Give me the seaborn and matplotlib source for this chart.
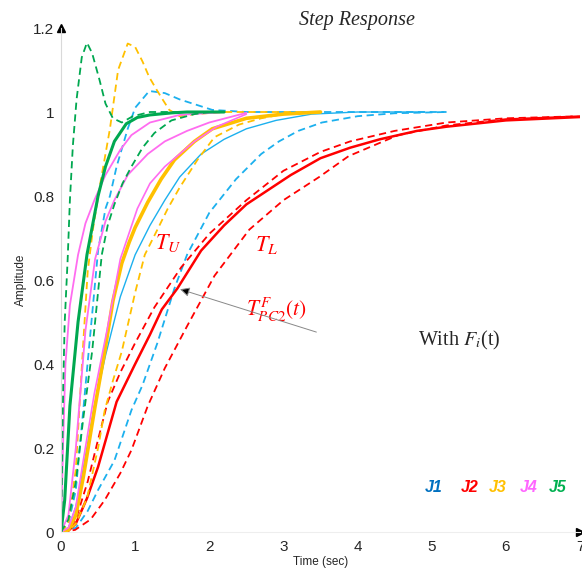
import matplotlib
matplotlib.use('Agg')
import matplotlib.pyplot as plt
import seaborn as sns

# J1 (blue) curves
t_j1_up = [0, 0.1, 0.2, 0.3, 0.4, 0.5, 0.6, 0.66, 0.75, 0.9, 1.0, 1.19, 1.4, 1.6, 2.04, 2.5, 3.0, 4.0, 5.2]
a_j1_up = [0, 0.02, 0.1, 0.29, 0.48, 0.67, 0.77, 0.8, 0.87, 0.96, 1.01, 1.05, 1.045, 1.03, 1.005, 1.0, 1.0, 1.0, 1.0]
t_j1_nom = [0, 0.1, 0.2, 0.3, 0.45, 0.6, 0.8, 1.0, 1.2, 1.4, 1.6, 1.89, 2.2, 2.5, 2.9, 3.38, 4.0, 4.9]
a_j1_nom = [0, 0.01, 0.06, 0.15, 0.3, 0.42, 0.56, 0.66, 0.73, 0.79, 0.845, 0.9, 0.935, 0.96, 0.98, 0.995, 1.0, 1.0]
t_j1_low = [0, 0.2, 0.36, 0.5, 0.72, 0.95, 1.1, 1.3, 1.53, 1.7, 2.0, 2.36, 2.7, 2.94, 3.2, 3.52, 4.0, 4.5, 5.2]
a_j1_low = [0, 0.01, 0.05, 0.1, 0.17, 0.29, 0.35, 0.45, 0.58, 0.66, 0.76, 0.84, 0.9, 0.93, 0.955, 0.975, 0.99, 0.997, 1.0]

# J2 (red) curves
t_j2_up = [0, 0.1, 0.2, 0.36, 0.5, 0.63, 0.8, 1.0, 1.26, 1.62, 2.0, 2.5, 3.0, 3.5, 3.9, 4.5, 5.2, 6.0, 7.0]
a_j2_up = [0, 0.005, 0.03, 0.12, 0.22, 0.31, 0.38, 0.45, 0.535, 0.63, 0.71, 0.79, 0.86, 0.905, 0.93, 0.955, 0.975, 0.985, 0.99]
t_j2_nom = [0, 0.1, 0.2, 0.35, 0.5, 0.75, 1.0, 1.2, 1.36, 1.57, 1.89, 2.2, 2.5, 2.8, 3.1, 3.5, 3.9, 4.3, 4.8, 5.2, 6.0, 7.0]
a_j2_nom = [0, 0.003, 0.02, 0.08, 0.155, 0.31, 0.40, 0.47, 0.53, 0.58, 0.67, 0.73, 0.78, 0.815, 0.85, 0.89, 0.915, 0.935, 0.955, 0.965, 0.98, 0.988]
t_j2_low = [0, 0.19, 0.4, 0.59, 0.8, 0.95, 1.17, 1.4, 1.7, 2.07, 2.54, 3.0, 3.48, 3.88, 4.28, 4.55, 5.2, 6.0, 7.0]
a_j2_low = [0, 0.005, 0.03, 0.076, 0.14, 0.195, 0.3, 0.39, 0.49, 0.61, 0.72, 0.79, 0.845, 0.895, 0.925, 0.945, 0.968, 0.983, 0.99]

# J3 (yellow) curves
t_j3_up = [0, 0.1, 0.2, 0.3, 0.36, 0.43, 0.52, 0.6, 0.66, 0.77, 0.9, 1.0, 1.1, 1.19, 1.3, 1.37, 1.46, 1.6, 1.8, 2.2, 3.0, 3.5]
a_j3_up = [0, 0.02, 0.15, 0.45, 0.62, 0.72, 0.82, 0.9, 0.96, 1.1, 1.163, 1.155, 1.12, 1.083, 1.05, 1.03, 1.005, 0.99, 0.995, 1.0, 1.0, 1.0]
t_j3_nom = [0, 0.1, 0.2, 0.3, 0.46, 0.59, 0.7, 0.82, 0.92, 1.0, 1.17, 1.35, 1.53, 1.8, 2.04, 2.5, 3.0, 3.5]
a_j3_nom = [0, 0.005, 0.04, 0.13, 0.3, 0.43, 0.55, 0.64, 0.69, 0.725, 0.785, 0.84, 0.886, 0.93, 0.96, 0.985, 0.995, 1.0]
t_j3_low = [0, 0.1, 0.2, 0.35, 0.5, 0.59, 0.7, 0.82, 1.0, 1.13, 1.3, 1.44, 1.6, 1.84, 2.07, 2.4, 2.7, 3.0, 3.5]
a_j3_low = [0, 0.003, 0.02, 0.08, 0.2, 0.29, 0.36, 0.43, 0.57, 0.66, 0.72, 0.77, 0.82, 0.886, 0.94, 0.97, 0.985, 0.995, 1.0]

# J4 (pink) curves
t_j4_a = [0, 0.03, 0.06, 0.12, 0.23, 0.33, 0.45, 0.6, 0.8, 0.95, 1.2, 1.6, 2.2]
a_j4_a = [0, 0.22, 0.4, 0.54, 0.66, 0.735, 0.79, 0.85, 0.91, 0.945, 0.975, 0.993, 1.0]
t_j4_b = [0, 0.1, 0.2, 0.33, 0.46, 0.6, 0.72, 0.9, 1.17, 1.4, 1.7, 2.0, 2.5]
a_j4_b = [0, 0.04, 0.2, 0.48, 0.65, 0.74, 0.79, 0.85, 0.9, 0.93, 0.955, 0.975, 0.998]
t_j4_c = [0, 0.1, 0.2, 0.3, 0.45, 0.62, 0.8, 1.03, 1.2, 1.4, 1.8, 2.1, 2.5]
a_j4_c = [0, 0.01, 0.06, 0.17, 0.33, 0.48, 0.65, 0.77, 0.83, 0.87, 0.93, 0.965, 0.995]

# J5 (green) curves
t_j5_up = [0, 0.01, 0.03, 0.05, 0.09, 0.12, 0.16, 0.21, 0.28, 0.35, 0.42, 0.52, 0.6, 0.7, 0.82, 0.97, 1.2, 2.0]
a_j5_up = [0, 0.1, 0.35, 0.5, 0.65, 0.79, 0.92, 1.03, 1.13, 1.165, 1.14, 1.076, 1.02, 0.985, 0.975, 0.99, 1.0, 1.0]
t_j5_nom = [0, 0.05, 0.12, 0.23, 0.35, 0.5, 0.6, 0.72, 0.88, 1.03, 1.2, 1.5, 1.7, 2.2]
a_j5_nom = [0, 0.076, 0.3, 0.5, 0.66, 0.8, 0.87, 0.93, 0.972, 0.987, 0.993, 0.998, 1.0, 1.0]
t_j5_low = [0, 0.1, 0.2, 0.3, 0.42, 0.55, 0.63, 0.72, 0.83, 0.95, 1.1, 1.26, 1.49, 1.8, 2.0]
a_j5_low = [0, 0.03, 0.12, 0.27, 0.43, 0.66, 0.73, 0.78, 0.83, 0.87, 0.915, 0.95, 0.98, 0.995, 1.0]

x_ticks = [0, 1, 2, 3, 4, 5, 6, 7]
y_ticks = [0, 0.2, 0.4, 0.6, 0.8, 1.0, 1.2]
y_tick_labels = ['0', '0.2', '0.4', '0.6', '0.8', '1', '1.2']
j_labels = ['J1', 'J2', 'J3', 'J4', 'J5']

c_blue = '#1cb0ee'
c_red = '#ff0000'
c_yellow = '#ffc000'
c_pink = '#ff6cf0'
c_green = '#00a850'
label_colors = ['#0070c0', '#ff0000', '#ffc000', '#ff66ff', '#00b050']

dash = (0, (4, 2.5))
curves = [
    (t_j1_up, a_j1_up, c_blue, dash, 1.3),
    (t_j1_nom, a_j1_nom, c_blue, '-', 1.0),
    (t_j1_low, a_j1_low, c_blue, dash, 1.3),
    (t_j2_up, a_j2_up, c_red, dash, 1.3),
    (t_j2_nom, a_j2_nom, c_red, '-', 1.8),
    (t_j2_low, a_j2_low, c_red, dash, 1.3),
    (t_j3_up, a_j3_up, c_yellow, dash, 1.3),
    (t_j3_nom, a_j3_nom, c_yellow, '-', 2.6),
    (t_j3_low, a_j3_low, c_yellow, dash, 1.3),
    (t_j4_a, a_j4_a, c_pink, '-', 1.3),
    (t_j4_b, a_j4_b, c_pink, '-', 1.3),
    (t_j4_c, a_j4_c, c_pink, '-', 1.2),
    (t_j5_up, a_j5_up, c_green, dash, 1.3),
    (t_j5_nom, a_j5_nom, c_green, '-', 2.2),
    (t_j5_low, a_j5_low, c_green, dash, 1.3),
]

sns.set_style('white')
plt.rcParams['font.family'] = ['Liberation Sans', 'DejaVu Sans']
plt.rcParams['mathtext.fontset'] = 'stix'

fig = plt.figure(figsize=(5.82, 5.74), dpi=100)
ax = fig.add_axes([61 / 582, 42 / 574, 519 / 582, 504 / 574])

for t, a, col, ls, lw in curves:
    sns.lineplot(x=t, y=a, color=col, linestyle=ls, linewidth=lw,
                 errorbar=None, ax=ax)

ax.set_xlim(0, 7)
ax.set_ylim(0, 1.2)
ax.set_xticks(x_ticks)
ax.set_yticks(y_ticks)
ax.set_yticklabels(y_tick_labels)
ax.tick_params(axis='y', direction='out', length=4, width=1, color='#9dd7ef',
               labelsize=11, pad=1)
ax.tick_params(axis='x', direction='in', length=4, width=1, color='#a0a0a0',
               labelsize=11, pad=6)
for s in ['top', 'right']:
    ax.spines[s].set_visible(False)
ax.spines['left'].set_color('#d9d9d9')
ax.spines['bottom'].set_color('#eeeeee')
ax.set_xlabel('Time (sec)', fontsize=8.5, labelpad=1)
ax.set_ylabel('Amplitude', fontsize=8.5, labelpad=4)

# axis arrow heads
ax.plot([0], [1.2], marker='^', color='black', markersize=6, clip_on=False)
ax.plot([7], [0], marker='>', color='black', markersize=6, clip_on=False)

fig.text(357 / 582, 1 - 21 / 574, 'Step Response', fontsize=14.5, style='italic',
         family='Liberation Serif', ha='center', va='center')

ax.text(1.44, 0.688, r'$T_U$', color='red', fontsize=16, ha='center', va='center')
ax.text(2.77, 0.683, r'$T_L$', color='red', fontsize=16, ha='center', va='center')
ax.text(2.91, 0.529, r'$T_{PC2}^{F}(t)$', color='red', fontsize=15.5,
        ha='center', va='center')
ax.annotate('', xy=(1.57, 0.58), xytext=(3.48, 0.474),
            arrowprops=dict(arrowstyle='-|>', facecolor='black',
                            edgecolor='#888888', lw=0.7, mutation_scale=14))
ax.text(5.37, 0.457, r'With $F_i$(t)', fontsize=14.5, family='Liberation Serif',
        ha='center', va='center')

j_x = [434, 470, 498, 529, 558]
for lab, col, px in zip(j_labels, label_colors, j_x):
    fig.text(px / 582, 1 - 487 / 574, lab, color=col, fontsize=11.5,
             fontweight='bold', style='italic', ha='center', va='center')

fig.savefig('out.png', dpi=100)
